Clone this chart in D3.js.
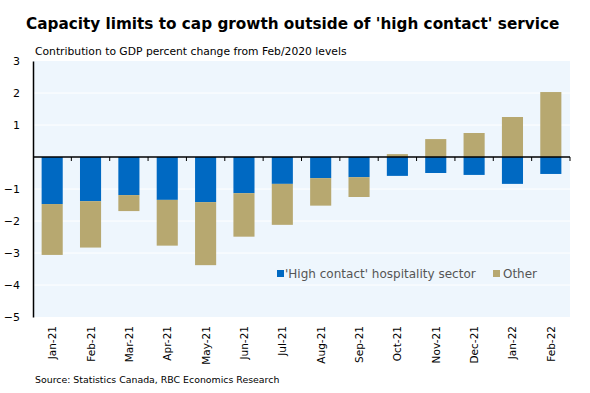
<!DOCTYPE html>
<html><head><meta charset="utf-8">
<script src="https://cdn.jsdelivr.net/npm/d3@7"></script>
<style>body{margin:0;background:#fff}svg{display:block}</style>
</head><body>
<script>
const categories = ["Jan-21","Feb-21","Mar-21","Apr-21","May-21","Jun-21","Jul-21","Aug-21","Sep-21","Oct-21","Nov-21","Dec-21","Jan-22","Feb-22"];
const highContact = [-1.47,-1.38,-1.19,-1.34,-1.41,-1.13,-0.84,-0.66,-0.63,-0.59,-0.50,-0.56,-0.84,-0.53];
const other = [-1.59,-1.45,-0.50,-1.43,-1.97,-1.36,-1.28,-0.86,-0.62,0.09,0.56,0.75,1.25,2.03];
const yTicks = [3,2,1,0,-1,-2,-3,-4,-5];
const seriesNames = ["'High contact' hospitality sector","Other"];
const colors = ["#0069C2","#B7A870"];

const W=590,H=393;
const m={left:33,right:20,top:61,bottom:76};
const svg=d3.select("body").append("svg").attr("width",W).attr("height",H);
const font="DejaVu Sans";

function fit(sel,target,size){
  sel.attr("font-size",size);
  const w=sel.node().getComputedTextLength();
  sel.attr("font-size",size*target/w);
  return sel;
}

const x=d3.scaleBand().domain(categories).range([m.left,W-m.right]).paddingInner(0.45).paddingOuter(0.225);
const y=d3.scaleLinear().domain([-5,3]).range([H-m.bottom,m.top]);

svg.append("rect").attr("x",m.left).attr("y",m.top).attr("width",W-m.right-m.left).attr("height",y(-5)-m.top).attr("fill","#EEF6FD");

// gridlines
svg.append("g").selectAll("line").data(yTicks.filter(d=>d!==0&&d!==-5&&d!==3)).join("line")
  .attr("x1",m.left).attr("x2",W-m.right).attr("y1",d=>y(d)).attr("y2",d=>y(d))
  .attr("stroke","#fff").attr("stroke-width",1);

// bars
const data=categories.map((c,i)=>({c,h:highContact[i],o:other[i]}));
const g=svg.append("g");
data.forEach(d=>{
  let neg=0,pos=0;
  [[d.h,0],[d.o,1]].forEach(([v,k])=>{
    let y0,y1;
    if(v<0){y0=neg;y1=neg+v;neg=y1;}else{y0=pos;y1=pos+v;pos=y1;}
    g.append("rect").attr("x",x(d.c)).attr("width",x.bandwidth())
      .attr("y",y(Math.max(y0,y1))).attr("height",Math.abs(y(y0)-y(y1))).attr("fill",colors[k]);
  });
});

// y axis
const ya=svg.append("g").attr("transform",`translate(${m.left},0)`)
  .call(d3.axisLeft(y).tickValues(yTicks).tickFormat(d=>d===0?"":d3.format("d")(d)).tickSize(0).tickPadding(13));
ya.select(".domain").attr("stroke","#000").attr("stroke-width",1.5);
ya.selectAll("text").attr("font-family",font).attr("font-size",11).attr("fill","#000");

// zero line with ticks between bands
const step=x.step();
const xa=svg.append("g").attr("transform",`translate(0,${y(0)})`);
xa.append("line").attr("x1",m.left).attr("x2",W-m.right).attr("stroke","#000").attr("stroke-width",1.5);
xa.selectAll(".tk").data(d3.range(1,categories.length+1)).join("line")
  .attr("x1",i=>m.left+i*step).attr("x2",i=>m.left+i*step).attr("y1",0).attr("y2",4).attr("stroke","#000");

// x labels
svg.append("g").selectAll("text").data(categories).join("text")
  .attr("transform",d=>`translate(${x(d)+x.bandwidth()/2+4},${y(-5)+9}) rotate(-90)`)
  .attr("text-anchor","end").attr("font-family",font).attr("font-size",10.5).attr("fill","#000").text(d=>d);

// legend
const lg=svg.append("g").attr("font-family",font).attr("fill","#555");
lg.append("rect").attr("x",277).attr("y",270).attr("width",7).attr("height",7).attr("fill",colors[0]);
fit(lg.append("text").attr("x",285).attr("y",278).text(seriesNames[0]).attr("fill","#555"),191,11);
lg.append("rect").attr("x",493).attr("y",270).attr("width",7).attr("height",7).attr("fill",colors[1]);
fit(lg.append("text").attr("x",503).attr("y",278).text(seriesNames[1]).attr("fill","#555"),34,11);

// titles
fit(svg.append("text").attr("x",26).attr("y",29).attr("font-family",font).attr("font-weight","bold").attr("fill","#000")
  .text("Capacity limits to cap growth outside of 'high contact' service"),534,17);
fit(svg.append("text").attr("x",35).attr("y",55).attr("font-family",font).attr("fill","#000")
  .text("Contribution to GDP percent change from Feb/2020 levels"),312,10.5);
fit(svg.append("text").attr("x",35).attr("y",383).attr("font-family",font).attr("fill","#000")
  .text("Source: Statistics Canada, RBC Economics Research"),245,10.5);
</script>
</body></html>
